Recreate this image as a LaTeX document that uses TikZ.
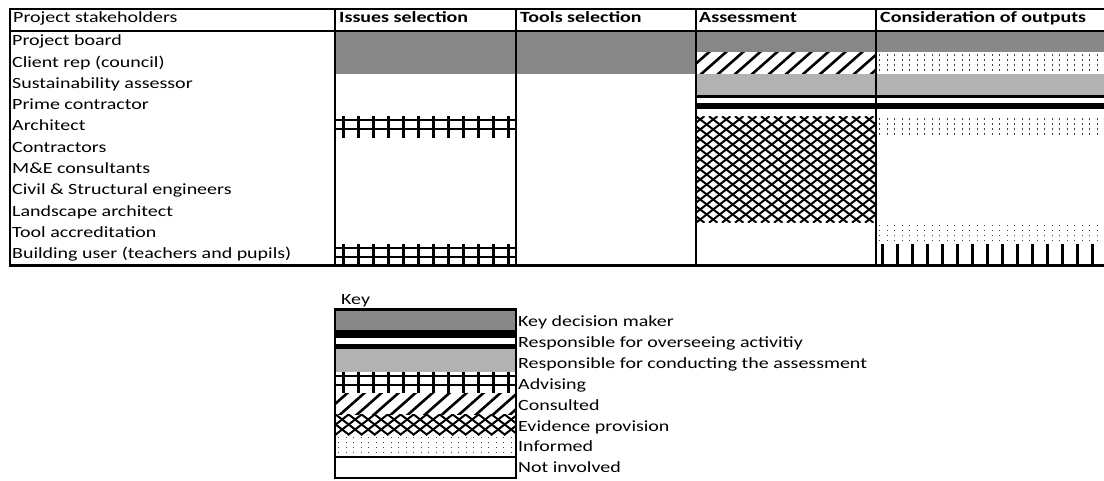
\documentclass[tikz,border=0pt]{standalone}
\usepackage{fontspec}
\setmainfont{Carlito}[FakeStretch=1.28]
\tikzset{
  gridline/.style={line width=2.6pt, line cap=rect},
  kdm/.style={fill=black!47},
  cond/.style={fill=black!30},
  lbl/.style={anchor=base west, inner sep=0pt, font=\fontsize{15.6}{17}\selectfont},
  hdr/.style={anchor=base west, inner sep=0pt, font=\fontsize{15.6}{17}\selectfont\bfseries},
  hatchline/.style={line width=2.6pt},
  crossline/.style={line width=2pt},
}
\newcommand\cellKDM[4]{\fill[kdm] (#1,#2) rectangle (#3,#4);}
\newcommand\cellCond[4]{\fill[cond] (#1,#2) rectangle (#3,#4);}
\newcommand\cellOver[4]{\fill (#1,#2) rectangle (#3,#2+3); \fill (#1,#2+8) rectangle (#3,#2+14);}
\newcommand\cellAdv[4]{\begin{scope}\clip (#1,#2) rectangle (#3,#4);
  \fill (#1,#2+2.5) rectangle (#3,#2+5); \fill (#1,#2+11.5) rectangle (#3,#2+14);
  \foreach \k in {0,...,14} \fill ({#1+6.5+15*\k},#2) rectangle ++(3,#4-#2);
  \end{scope}}
\newcommand\cellBars[4]{\begin{scope}\clip (#1,#2) rectangle (#3,#4);
  \foreach \k in {0,...,16} \fill ({#1+4.5+15*\k},#2) rectangle ++(3,#4-#2);
  \end{scope}}
\newcommand\cellCons[4]{\begin{scope}\clip (#1,#2) rectangle (#3,#4);
  \foreach \k in {-3,...,16} \draw[hatchline] ({#1+17*\k},{#4+5}) -- ++({1.1333*(#4-#2+10)},{-(#4-#2+10)});
  \end{scope}}
\newcommand\cellEvid[4]{\begin{scope}\clip (#1,#2) rectangle (#3,#4);
  \foreach \k in {-12,...,16} {\draw[crossline] ({#1+13*\k},#4) -- ++({1.3*(#4-#2)},{-(#4-#2)});
  \draw[crossline] ({#1+13*\k},#2) -- ++({1.3*(#4-#2)},{#4-#2});}
  \end{scope}}
\newcommand\cellInf[4]{\begin{scope}\clip (#1,#2) rectangle (#3,#4);
  \foreach \k in {0,...,31} {\foreach \j in {0,...,4} {\fill[black!75] ({#1+3+7.5*\k},{#2+2+5*\j}) rectangle ++(1.4,1.4);}}
  \end{scope}}
\begin{document}
\begin{tikzpicture}[x=1pt,y=-1pt]
\useasboundingbox (0,0) rectangle (1104,480);
\clip (0,0) rectangle (1104,480);
% Issues selection
\cellKDM{335}{31}{516}{73.6}
\cellAdv{335}{116.2}{516}{137.5}
\cellAdv{335}{244}{516}{265.3}
% Tools selection
\cellKDM{516}{31}{696}{73.6}
% Assessment
\cellKDM{696}{31}{876}{52.3}
\cellCons{696}{52.3}{876}{73.6}
\cellCond{696}{73.6}{876}{94.9}
\cellOver{696}{94.9}{876}{116.2}
\cellEvid{696}{116.2}{876}{222.7}
% Consideration of outputs
\cellKDM{876}{31}{1110}{52.3}
\cellInf{876}{52.3}{1110}{73.6}
\cellCond{876}{73.6}{1110}{94.9}
\cellOver{876}{94.9}{1110}{116.2}
\cellInf{876}{116.2}{1110}{137.5}
\cellInf{876}{222.7}{1110}{244}
\cellBars{876}{244}{1110}{265.3}
% grid
\draw[gridline] (10,9) -- (1110,9);
\draw[gridline] (10,31) -- (1110,31);
\draw[gridline] (10,265.3) -- (1110,265.3);
\draw[gridline] (10,9) -- (10,265.3);
\foreach \xx in {335,516,696,876} \draw[gridline] (\xx,9) -- (\xx,265.3);
% header texts
\node[lbl] (h0) at (13,22.7) {Project stakeholders};
\node[hdr] (h1) at (339,22.7) {Issues selection};
\node[hdr] (h2) at (520,22.7) {Tools selection};
\node[hdr] (h3) at (699,22.7) {Assessment};
\node[hdr] (h4) at (880,22.7) {Consideration of outputs};
% row labels
\node[lbl] (r0) at (12,45.7) {Project board};
\node[lbl] (r1) at (12,67) {Client rep (council)};
\node[lbl] (r2) at (12,88.3) {Sustainability assessor};
\node[lbl] (r3) at (12,109.6) {Prime contractor};
\node[lbl] (r4) at (12,130.9) {Architect};
\node[lbl] (r5) at (12,152.2) {Contractors};
\node[lbl] (r6) at (12,173.5) {M\&E consultants};
\node[lbl] (r7) at (12,194.8) {Civil \& Structural engineers};
\node[lbl] (r8) at (12,216.1) {Landscape architect};
\node[lbl] (r9) at (12,237.4) {Tool accreditation};
\node[lbl] (r10) at (12,258.7) {Building user (teachers and pupils)};
% key
\node[lbl] (keytitle) at (341,304) {Key};
\cellKDM{335}{309.5}{516}{330}
\fill (335,330) rectangle (516,337.5);
\fill (335,343.5) rectangle (516,349);
\cellCond{335}{349}{516}{372}
\cellAdv{335}{372}{516}{393}
\cellCons{335}{393}{516}{414}
\cellEvid{335}{414}{516}{435}
\cellInf{335}{435}{516}{456}
\draw[line width=2pt] (335,457) -- (516,457);
\draw[gridline] (335,309.5) rectangle (516,478);
\node[lbl] (k1) at (518,326.5) {Key decision maker};
\node[lbl] (k2) at (518,347.4) {Responsible for overseeing activitiy};
\node[lbl] (k3) at (518,368.3) {Responsible for conducting the assessment};
\node[lbl] (k4) at (518,389.2) {Advising};
\node[lbl] (k5) at (518,410.1) {Consulted};
\node[lbl] (k6) at (518,431) {Evidence provision};
\node[lbl] (k7) at (518,451.9) {Informed};
\node[lbl] (k8) at (518,472.8) {Not involved};
\end{tikzpicture}
\end{document}
